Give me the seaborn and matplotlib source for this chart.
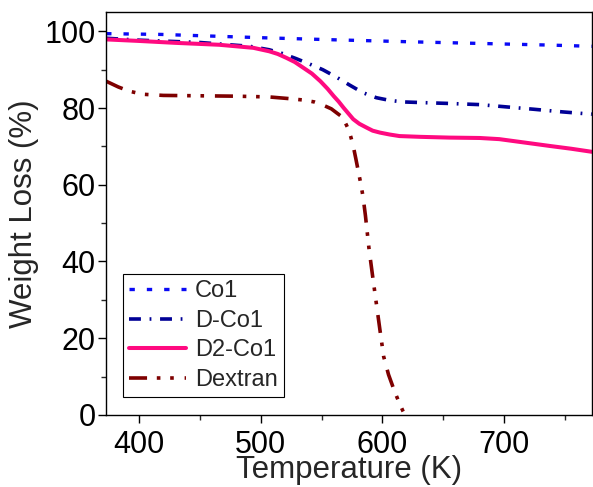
import pandas as pd
import seaborn as sns
import matplotlib.pyplot as plt
from matplotlib.ticker import MultipleLocator

# TGA curves
co1_T = [373, 418, 466, 505, 560, 620, 660, 700, 740, 772]
co1_W = [99.4, 99.2, 98.7, 98.3, 97.8, 97.3, 97.0, 96.7, 96.4, 96.1]

dco1_T = [373, 400, 450, 491, 507, 518, 529, 540, 551, 562, 573, 584, 595, 606, 617,
          635, 655, 680, 702, 724, 748, 772]
dco1_W = [98.2, 97.7, 97.1, 96.1, 95.2, 94.2, 92.9, 91.5, 90.0, 88.1, 86.0, 84.0, 82.7, 82.0, 81.6,
          81.4, 81.2, 80.9, 80.3, 79.7, 79.0, 78.4]

d2co1_T = [373, 400, 430, 466, 494, 507, 514, 521, 528, 535, 542, 549, 555, 560, 564, 568,
           572, 576, 581, 587, 592, 598, 606, 614, 631, 655, 680, 696, 710, 724, 738, 755, 772]
d2co1_W = [97.9, 97.5, 97.0, 96.5, 95.7, 94.8, 94.1, 93.1, 92.0, 90.5, 89.0, 87.0, 85.0, 83.1, 81.7, 80.1,
           78.6, 77.1, 75.9, 74.9, 74.1, 73.6, 73.1, 72.7, 72.5, 72.3, 72.2, 71.9, 71.3, 70.7, 70.1, 69.4, 68.6]

dex_T = [373, 383, 392, 403, 420, 450, 480, 507, 522, 535, 544, 551, 558, 563, 566, 569, 572,
         574, 576, 578, 580, 582, 584, 586, 589, 592, 595, 598, 601, 605, 610, 614, 617, 620]
dex_W = [87.0, 85.5, 84.4, 83.6, 83.3, 83.2, 83.1, 82.9, 82.5, 82.1, 81.6, 80.8, 79.8, 78.6, 77.9, 76.5, 74.5,
         72.5, 70.1, 67.0, 63.8, 60.6, 57.0, 52.0, 43.2, 36.0, 29.0, 22.0, 15.2, 10.5, 6.1, 3.0, 0.9, -1.0]

labels = ['Co1', 'D-Co1', 'D2-Co1', 'Dextran']
colors = ['#0A0AF5', '#000096', '#FF0A80', '#7E0000']
styles = [(0, (1.6, 3.6)), (0, (3.3, 2.4, 0.5, 2.4)), '-', (0, (5, 2.7, 1, 2.7, 1, 3))]
widths = [2.4, 2.6, 2.9, 2.6]

series = [(co1_T, co1_W), (dco1_T, dco1_W), (d2co1_T, d2co1_W), (dex_T, dex_W)]

sns.set_style('ticks')
plt.rcParams['font.family'] = ['Liberation Sans', 'DejaVu Sans']

fig = plt.figure(figsize=(5.93, 4.87), dpi=100)
ax = fig.add_axes([0.179, 0.148, 0.819, 0.827])

for (t, w), lab, c, ls, lw in zip(series, labels, colors, styles, widths):
    df = pd.DataFrame({'T': t, 'W': w})
    sns.lineplot(data=df, x='T', y='W', ax=ax, color=c, linestyle=ls,
                 linewidth=lw, label=lab, sort=False, dash_capstyle='butt')

ax.set_xlim(373, 772)
ax.set_ylim(0, 105)
ax.xaxis.set_major_locator(MultipleLocator(100))
ax.xaxis.set_minor_locator(MultipleLocator(50))
ax.yaxis.set_major_locator(MultipleLocator(20))
ax.yaxis.set_minor_locator(MultipleLocator(10))
ax.tick_params(which='major', direction='out', length=5.5, width=1, labelsize=22, pad=2,
               colors='black')
ax.tick_params(axis='x', which='major', pad=5)
ax.tick_params(which='minor', direction='out', length=3.5, width=1)
for s in ax.spines.values():
    s.set_linewidth(1.0)
    s.set_color('black')

ax.set_xlabel('Temperature (K)', fontsize=22.5, labelpad=-3)
ax.set_ylabel('Weight Loss (%)', fontsize=22.5, labelpad=4)

leg = ax.legend(loc='lower left', bbox_to_anchor=(0.035, 0.045), fontsize=17,
                frameon=True, fancybox=False, edgecolor='black', framealpha=1,
                handlelength=2.4, labelspacing=0.32, borderpad=0.25, handletextpad=0.4,
                borderaxespad=0)
leg.get_frame().set_linewidth(0.8)

fig.savefig('out.png', dpi=100)
